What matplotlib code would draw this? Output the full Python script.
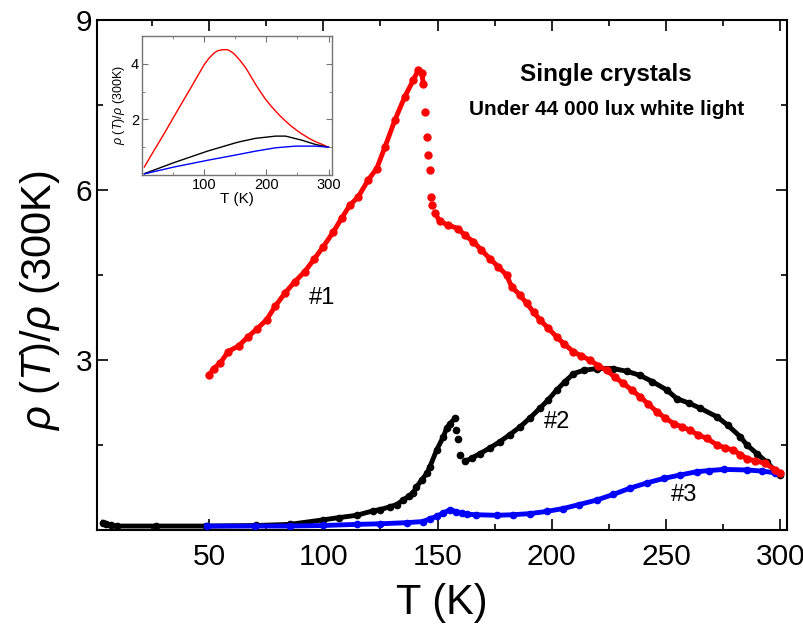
import matplotlib
matplotlib.use("Agg")
import matplotlib.pyplot as plt
from matplotlib.ticker import FixedLocator

plt.rcParams['font.family'] = ['Liberation Sans', 'DejaVu Sans']
plt.rcParams['mathtext.fontset'] = 'custom'
plt.rcParams['mathtext.rm'] = 'Liberation Sans'
plt.rcParams['mathtext.it'] = 'Liberation Sans:italic'

# sample #1 (red) - rise up to the peak
red_T1 = [50, 52, 55, 58.4, 63, 67.1, 71, 75.2, 79, 83.2, 87.5, 91.9, 96, 100,
          104.4, 108, 111.6, 115.3, 119.7, 123.4, 127, 131.3, 135.7, 139.4,
          141.6, 143.1, 143.8]
red_v1 = [2.73, 2.85, 2.95, 3.15, 3.25, 3.41, 3.55, 3.71, 3.95, 4.18, 4.38, 4.56,
          4.78, 5.0, 5.26, 5.5, 5.73, 5.88, 6.18, 6.38, 6.76, 7.23, 7.65, 7.94,
          8.12, 8.06, 7.88]
# sparse points of the sharp drop
red_Td = [144.5, 145.5, 146.0, 146.7, 147.1, 147.7]
red_vd = [7.38, 6.94, 6.62, 6.35, 5.88, 5.73]
# after the drop
red_T2 = [148.9, 151, 154.7, 159.1, 162, 165.7, 169, 172.9, 176.5, 180.2, 182.5,
          186, 189, 192, 194.8, 198.5, 202.1, 205.5, 209.4, 213, 216.7, 220.3,
          224, 227.5, 231.3, 235, 238.7, 242.3, 245.9, 249.5, 253.3, 257, 260.5,
          264, 267.8, 272.3, 276, 279.5, 282.5, 285.4, 289, 293.3, 297.7, 300]
red_v2 = [5.59, 5.45, 5.38, 5.32, 5.2, 5.09, 4.95, 4.79, 4.65, 4.5, 4.29,
          4.15, 4.0, 3.85, 3.71, 3.56, 3.41, 3.28, 3.15, 3.07, 3.0, 2.9,
          2.82, 2.7, 2.59, 2.47, 2.35, 2.22, 2.09, 1.98, 1.88, 1.82, 1.76,
          1.68, 1.62, 1.5, 1.45, 1.41, 1.33, 1.26, 1.22, 1.18, 1.06, 1.0]

# sample #2 (black)
blk_T1 = [3.6, 5.1, 7, 9.6, 27, 48.9, 70.8, 85.4, 100, 107, 114.6, 121.9, 124.8,
          129.2, 132.1, 135, 137.5, 139.4, 140.8, 143, 145.3, 146.7, 149.6,
          152.6, 154, 155.5, 157.6]
blk_v1 = [0.13, 0.1, 0.08, 0.07, 0.07, 0.07, 0.08, 0.1, 0.18, 0.22, 0.26, 0.34,
          0.36, 0.41, 0.45, 0.53, 0.6, 0.66, 0.76, 0.88, 1.0, 1.12, 1.41,
          1.65, 1.8, 1.88, 1.97]
blk_Td = [158.3, 159.0, 160.0]
blk_vd = [1.76, 1.6, 1.32]
blk_T2 = [162, 165, 168.6, 173, 177.3, 181.5, 186.1, 190.5, 194.8, 198.5, 202.1,
          205.8, 209.5, 214, 219.7, 227, 233, 238.6, 244, 250.4, 254.7, 260,
          264.9, 272.2, 277, 282.4, 285.4, 289.7, 294, 297.7, 300]
blk_v2 = [1.21, 1.27, 1.35, 1.45, 1.56, 1.68, 1.82, 1.98, 2.15, 2.3, 2.47,
          2.62, 2.76, 2.82, 2.85, 2.85, 2.8, 2.73, 2.62, 2.47, 2.32, 2.24,
          2.15, 2.0, 1.85, 1.65, 1.5, 1.35, 1.2, 1.05, 0.98]

# sample #3 (blue)
blu_T = [49, 70, 85.4, 100, 114.6, 124.8, 136.5, 143.8, 146.7, 149.6, 152.5,
         155.6, 158.3, 160.5, 162.8, 167, 175.9, 183, 190.5, 198, 205.1, 212,
         219.7, 227, 234.3, 241.5, 248.9, 256, 263.5, 269, 275.2, 285.4, 292,
         297.7, 300]
blu_v = [0.07, 0.07, 0.07, 0.08, 0.1, 0.11, 0.13, 0.15, 0.2, 0.24, 0.3,
         0.36, 0.32, 0.3, 0.28, 0.27, 0.26, 0.27, 0.29, 0.33, 0.38, 0.45,
         0.53, 0.63, 0.74, 0.83, 0.91, 0.97, 1.03, 1.05, 1.07, 1.06, 1.04,
         1.01, 1.0]

# inset curves
ins_red_T = [4.3, 15, 25.7, 39, 52.3, 65.6, 79, 90, 100.4, 108, 116.3, 122,
             129.7, 137.7, 143, 148.4, 151, 158, 167, 175, 183, 191, 199, 207,
             215, 223, 231, 239, 247, 255, 263, 271, 279, 290, 300]
ins_red_v = [0.29, 0.7, 1.1, 1.6, 2.12, 2.63, 3.14, 3.57, 3.97, 4.2, 4.39, 4.47,
             4.51, 4.51, 4.45, 4.36, 4.3, 4.12, 3.86, 3.56, 3.26, 2.98, 2.72, 2.5,
             2.3, 2.11, 1.94, 1.78, 1.64, 1.51, 1.4, 1.29, 1.2, 1.1, 1.0]
ins_blk_T = [4.3, 52.3, 105.7, 151, 158, 183, 215, 231, 257.7, 279, 300]
ins_blk_v = [0.05, 0.45, 0.86, 1.16, 1.2, 1.32, 1.4, 1.4, 1.25, 1.1, 1.0]
ins_blu_T = [4.3, 52.3, 105.7, 151, 183, 215, 247, 279, 300]
ins_blu_v = [0.04, 0.29, 0.53, 0.72, 0.86, 0.98, 1.04, 1.04, 1.0]

fig = plt.figure(figsize=(8.04, 6.28), dpi=100)
ax = fig.add_axes([0.1206, 0.156, 0.8585, 0.812])

ax.plot(blk_T1, blk_v1, '-o', color='black', lw=3.5, ms=4.5, zorder=2)
ax.plot(blk_Td, blk_vd, 'o', color='black', ms=4.5, zorder=2)
ax.plot(blk_T2, blk_v2, '-o', color='black', lw=3.5, ms=4.5, zorder=2)
ax.plot(blu_T, blu_v, '-o', color='#0000ff', lw=3.5, ms=4.5, zorder=3)
ax.plot(red_T1, red_v1, '-o', color='#ff0000', lw=3.5, ms=5, zorder=4)
ax.plot(red_Td, red_vd, 'o', color='#ff0000', ms=5, zorder=4)
ax.plot(red_T2, red_v2, '-o', color='#ff0000', lw=3.5, ms=5, zorder=4)

ax.set_xlim(1, 303)
ax.set_ylim(0, 9)
ax.xaxis.set_major_locator(FixedLocator([50, 100, 150, 200, 250, 300]))
ax.xaxis.set_minor_locator(FixedLocator([25, 75, 125, 175, 225, 275]))
ax.yaxis.set_major_locator(FixedLocator([3, 6, 9]))
ax.yaxis.set_minor_locator(FixedLocator([1.5, 4.5, 7.5]))
ax.tick_params(which='both', direction='in', top=True, right=True, width=1.2)
ax.tick_params(which='major', length=8, labelsize=21.5)
ax.tick_params(axis='x', which='major', pad=9)
ax.tick_params(which='minor', length=4.5)
for s in ax.spines.values():
    s.set_linewidth(1.5)

ax.set_xlabel('T (K)', fontsize=30, labelpad=9)
ax.set_ylabel(r'$\rho$ ($T$)/$\rho$ (300K)', fontsize=30)
ax.yaxis.set_label_coords(-0.05, 0.45)

ax.text(99.5, 4.09, '#1', fontsize=17, ha='center', va='center')
ax.text(202.2, 1.9, '#2', fontsize=17, ha='center', va='center')
ax.text(257.7, 0.62, '#3', fontsize=17, ha='center', va='center')
ax.text(0.738, 0.893, 'Single crystals', transform=ax.transAxes,
        fontsize=17.5, fontweight='bold', ha='center', va='center')
ax.text(0.738, 0.824, 'Under 44 000 lux white light', transform=ax.transAxes,
        fontsize=15, fontweight='bold', ha='center', va='center')

# inset
axi = fig.add_axes([0.1762, 0.7213, 0.2363, 0.2213])
axi.plot(ins_red_T, ins_red_v, color='#ff0000', lw=1)
axi.plot(ins_blk_T, ins_blk_v, color='black', lw=1)
axi.plot(ins_blu_T, ins_blu_v, color='#0000ff', lw=1)
axi.set_xlim(0, 305)
axi.set_ylim(0, 5)
axi.xaxis.set_major_locator(FixedLocator([100, 200, 300]))
axi.xaxis.set_minor_locator(FixedLocator([50, 150, 250]))
axi.yaxis.set_major_locator(FixedLocator([2, 4]))
axi.yaxis.set_minor_locator(FixedLocator([1, 3, 5]))
axi.tick_params(which='both', direction='in', top=True, right=True,
                color='0.45', labelsize=10.5, pad=2)
axi.tick_params(which='major', length=4)
axi.tick_params(which='minor', length=2.5)
for s in axi.spines.values():
    s.set_color('0.45')
    s.set_linewidth(1)
axi.set_xlabel('T (K)', fontsize=11, labelpad=0)
axi.set_ylabel(r'$\rho$ ($T$)/$\rho$ (300K)', fontsize=9, labelpad=3)

fig.savefig('out.png', dpi=100)
